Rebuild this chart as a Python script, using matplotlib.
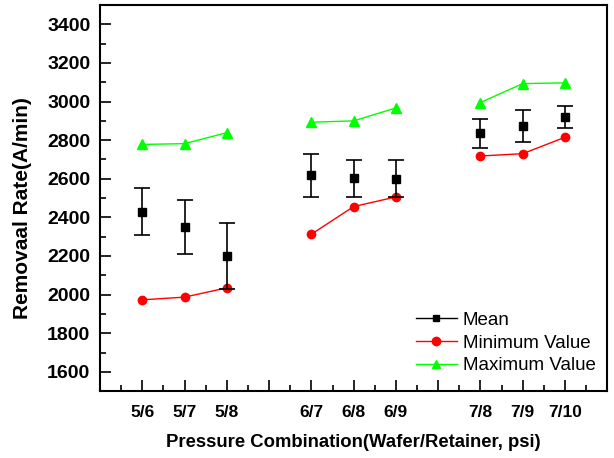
import numpy as np
import matplotlib.pyplot as plt
from matplotlib.lines import Line2D
from matplotlib.ticker import MultipleLocator

plt.rcParams['font.family'] = ['Liberation Sans', 'DejaVu Sans']

# 压力组合 (wafer/retainer), 每组三个
groups = [['5/6', '5/7', '5/8'], ['6/7', '6/8', '6/9'], ['7/8', '7/9', '7/10']]

mean_val = [2429, 2349, 2200, 2619, 2602, 2600, 2837, 2874, 2919]
mean_err = [122, 140, 170, 111, 97, 95, 75, 83, 58]
min_val = [1973, 1987, 2035, 2313, 2456, 2506, 2718, 2730, 2815]
max_val = [2778, 2782, 2839, 2893, 2900, 2967, 2995, 3093, 3097]

# 组之间空一格
xpos = []
labels = []
for g, names in enumerate(groups):
    for k, name in enumerate(names):
        xpos.append(g * 4 + k + 1)
        labels.append(name)
xpos = np.array(xpos)

fig = plt.figure(figsize=(6.14, 4.58), dpi=100)
ax = fig.add_axes([0.163, 0.146, 0.826, 0.843])

for g in range(len(groups)):
    s = slice(g * 3, g * 3 + 3)
    ax.plot(xpos[s], max_val[s], '-^', color='#00ff00', ms=6.5, lw=1, zorder=2)
    ax.plot(xpos[s], min_val[s], '-o', color='#ff0000', ms=6, lw=1, zorder=2)

ax.errorbar(xpos, mean_val, yerr=mean_err, fmt='s', color='black', ms=5.5,
            ecolor='black', elinewidth=1.2, capsize=6, capthick=1.2, zorder=3)

handles = [Line2D([], [], color='black', marker='s', ms=5, lw=1),
           Line2D([], [], color='#ff0000', marker='o', ms=6, lw=1),
           Line2D([], [], color='#00ff00', marker='^', ms=6, lw=1)]
ax.legend(handles, ['Mean', 'Minimum Value', 'Maximum Value'], loc='lower right',
          frameon=False, fontsize=13.5, handlelength=2.2, handletextpad=0.3,
          labelspacing=0.3, bbox_to_anchor=(1.01, 0.0))

ax.set_xlim(0, 12)
ax.set_ylim(1500, 3500)
ax.set_xticks(range(1, 12))
tick_lab = [''] * 11
for p, name in zip(xpos, labels):
    tick_lab[p - 1] = name
ax.set_xticklabels(tick_lab)
ax.xaxis.set_minor_locator(MultipleLocator(0.5))
ax.set_yticks(np.arange(1600, 3401, 200))
ax.yaxis.set_minor_locator(MultipleLocator(100))

ax.tick_params(which='both', direction='in', top=False, right=False, width=1.2)
ax.tick_params(which='major', length=8)
ax.tick_params(which='minor', length=4)
ax.tick_params(axis='x', which='major', labelsize=12.5, pad=10)
ax.tick_params(axis='y', which='major', labelsize=14, pad=7)
for lab in ax.get_xticklabels() + ax.get_yticklabels():
    lab.set_fontweight('bold')
for sp in ax.spines.values():
    sp.set_linewidth(1.5)

ax.set_xlabel('Pressure Combination(Wafer/Retainer, psi)', fontsize=13.3,
              fontweight='bold', labelpad=10)
ax.set_ylabel('Removaal Rate(A/min)', fontsize=15, fontweight='bold')
ax.yaxis.set_label_coords(-0.135, 0.475)

fig.savefig('out.png', dpi=100)
